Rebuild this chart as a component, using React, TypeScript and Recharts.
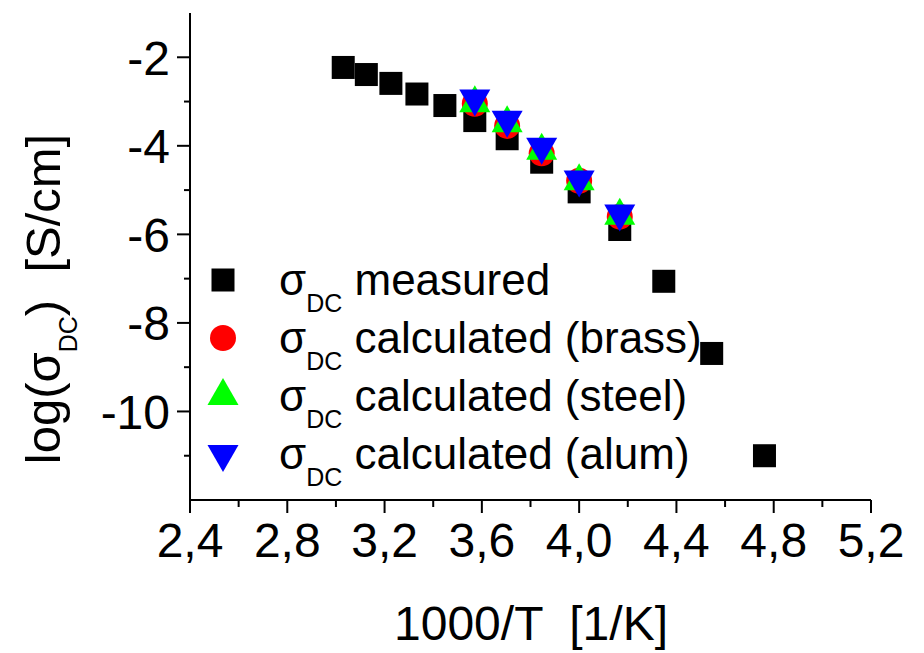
import React from "react";
import { ScatterChart, Scatter, XAxis, YAxis, Legend, Label } from "recharts";

// ─── Data ─────────────────────────────────────────────────────────────────────

// 1000/T [1/K] for measured points
const invT = [3.030, 3.125, 3.226, 3.333, 3.448, 3.571, 3.704, 3.846, 4.000, 4.167, 4.348, 4.545, 4.762];
const measured = [-2.23, -2.39, -2.59, -2.83, -3.09, -3.43, -3.84, -4.37, -5.04, -5.89, -7.06, -8.69, -11.0];

// calculated points share the 240–280 K temperatures
const calcT = [3.571, 3.704, 3.846, 4.000, 4.167];
const brass = [-3.05, -3.55, -4.17, -4.79, -5.60];
const steel = [-3.04, -3.49, -4.11, -4.80, -5.58];
const alum = [-2.93, -3.41, -4.02, -4.76, -5.53];

const xTicks = [2.4, 2.6, 2.8, 3.0, 3.2, 3.4, 3.6, 3.8, 4.0, 4.2, 4.4, 4.6, 4.8, 5.0, 5.2];
const xMajor = [2.4, 2.8, 3.2, 3.6, 4.0, 4.4, 4.8, 5.2];
const yTicks = [-11, -10, -9, -8, -7, -6, -5, -4, -3, -2];
const yMajor = [-10, -8, -6, -4, -2];

const FONT = "'Liberation Sans', Arial, sans-serif";

const pts = (xs: number[], ys: number[]) => xs.map((x, i) => ({ x, y: ys[i] }));

// ─── Markers ──────────────────────────────────────────────────────────────────

const Square = ({ cx, cy }: any) => <rect x={cx - 11.5} y={cy - 11.5} width={23} height={23} fill="#000" />;
const Dot = ({ cx, cy }: any) => <circle cx={cx} cy={cy} r={13} fill="#ff0000" />;
const TriUp = ({ cx, cy }: any) => (
    <path d={`M${cx},${cy - 18}L${cx + 15.5},${cy + 9}L${cx - 15.5},${cy + 9}Z`} fill="#00ff00" />
);
const TriDown = ({ cx, cy }: any) => (
    <path d={`M${cx},${cy + 18}L${cx + 15.5},${cy - 9}L${cx - 15.5},${cy - 9}Z`} fill="#0000ff" />
);

const legendRows = [
    { label: "measured", Shape: Square },
    { label: "calculated (brass)", Shape: Dot },
    { label: "calculated (steel)", Shape: TriUp },
    { label: "calculated (alum)", Shape: TriDown },
];

// ─── Ticks ────────────────────────────────────────────────────────────────────

const fmt = (v: number) => v.toFixed(1).replace(".", ",");

const XTick = ({ x, y, payload }: any) => {
    const major = xMajor.some((m) => Math.abs(m - payload.value) < 1e-6);
    return (
        <g>
            <line x1={x} x2={x} y1={y} y2={y + (major ? 13 : 7)} stroke="#000" strokeWidth={2} />
            {major && (
                <text x={x} y={y + 23} dy="0.71em" textAnchor="middle" fontSize={48} fontFamily={FONT} fill="#000">
                    {fmt(payload.value)}
                </text>
            )}
        </g>
    );
};

const YTick = ({ x, y, payload }: any) => {
    const major = yMajor.includes(payload.value);
    return (
        <g>
            <line x1={x} x2={x - (major ? 13 : 6)} y1={y} y2={y} stroke="#000" strokeWidth={2} />
            {major && (
                <text x={x - 20} y={y} dy="0.36em" textAnchor="end" fontSize={48} fontFamily={FONT} fill="#000">
                    {payload.value}
                </text>
            )}
        </g>
    );
};

// ─── Legend ───────────────────────────────────────────────────────────────────

const LegendBox = () => (
    <svg width={520} height={230} style={{ overflow: "visible", display: "block" }}>
        {legendRows.map(({ label, Shape }, i) => {
            const base = 45 + i * 58;
            return (
                <g key={label}>
                    <Shape cx={28} cy={base - 15} />
                    <text x={84} y={base} fontSize={44} fontFamily={FONT} fill="#000" style={{ whiteSpace: "pre" }}>
                        σ<tspan dy={17} fontSize={25}>DC</tspan>
                        <tspan dy={-17}> {label}</tspan>
                    </text>
                </g>
            );
        })}
    </svg>
);

export default function App() {
    return (
        <div style={{ position: "absolute", left: 0, top: 0, background: "#fff" }}>
            <ScatterChart width={924} height={653} margin={{ top: 13, right: 53, bottom: 0, left: 0 }}>
                <XAxis
                    xAxisId="b"
                    type="number"
                    dataKey="x"
                    domain={[2.4, 5.2]}
                    ticks={xTicks}
                    interval={0}
                    allowDataOverflow
                    height={153}
                    tickSize={0}
                    tickMargin={0}
                    tickLine={false}
                    tick={<XTick />}
                    axisLine={{ stroke: "#000", strokeWidth: 2 }}
                >
                    <Label
                        content={() => (
                            <text x={531} y={640} textAnchor="middle" fontSize={48} fontFamily={FONT} fill="#000" style={{ whiteSpace: "pre" }}>
                                1000/T  [1/K]
                            </text>
                        )}
                    />
                </XAxis>
                <XAxis
                    xAxisId="t"
                    orientation="top"
                    type="number"
                    domain={[2.4, 5.2]}
                    ticks={xTicks}
                    interval={0}
                    allowDataOverflow
                    height={0}
                    mirror
                    tick={false}
                    tickSize={3}
                    tickLine={{ stroke: "#000", strokeWidth: 1.5 }}
                    axisLine={{ stroke: "#000", strokeWidth: 2 }}
                />
                <YAxis
                    yAxisId="l"
                    type="number"
                    dataKey="y"
                    domain={[-12, -1]}
                    ticks={yTicks}
                    interval={0}
                    allowDataOverflow
                    width={190}
                    tickSize={0}
                    tickMargin={0}
                    tickLine={false}
                    tick={<YTick />}
                    axisLine={{ stroke: "#000", strokeWidth: 2 }}
                >
                    <Label
                        content={() => (
                            <text
                                transform="translate(60,299) rotate(-90)"
                                textAnchor="middle"
                                fontSize={49}
                                fontFamily={FONT}
                                fill="#000"
                                style={{ whiteSpace: "pre" }}
                            >
                                log(σ<tspan dy={17} fontSize={25}>DC</tspan>
                                <tspan dy={-17}>)  [S/cm]</tspan>
                            </text>
                        )}
                    />
                </YAxis>
                <YAxis
                    yAxisId="r"
                    orientation="right"
                    type="number"
                    domain={[-12, -1]}
                    ticks={yTicks}
                    interval={0}
                    allowDataOverflow
                    width={0}
                    mirror
                    tick={false}
                    tickSize={3}
                    tickLine={{ stroke: "#000", strokeWidth: 1.5 }}
                    axisLine={{ stroke: "#000", strokeWidth: 2 }}
                />
                <Legend
                    layout="horizontal"
                    verticalAlign="middle"
                    align="center"
                    content={<LegendBox />}
                    wrapperStyle={{ position: "absolute", left: 195, top: 250, width: 520, height: 230 }}
                />
                <Scatter xAxisId="b" yAxisId="l" data={pts(invT, measured)} shape={<Square />} isAnimationActive={false} />
                <Scatter xAxisId="b" yAxisId="l" data={pts(calcT, brass)} shape={<Dot />} isAnimationActive={false} />
                <Scatter xAxisId="b" yAxisId="l" data={pts(calcT, steel)} shape={<TriUp />} isAnimationActive={false} />
                <Scatter xAxisId="b" yAxisId="l" data={pts(calcT, alum)} shape={<TriDown />} isAnimationActive={false} />
            </ScatterChart>
        </div>
    );
}
